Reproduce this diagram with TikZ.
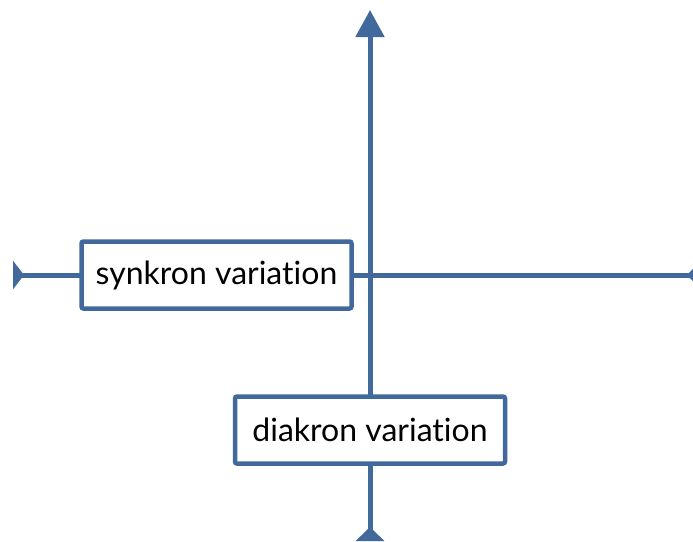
\documentclass[tikz,border=0pt]{standalone}
\usepackage{fontspec}
\setmainfont{Lato}[Ligatures={NoCommon}]
\usepackage{xcolor}
\usepackage{tikz}
\usetikzlibrary{arrows.meta}
\definecolor{axisblue}{RGB}{65,105,155}
\tikzstyle{axis} = [draw=axisblue, line width=5pt]
\tikzstyle{varbox} = [draw=axisblue, line width=4.5pt, fill=white, rounded corners=2pt,
	minimum width=270pt, minimum height=67pt, inner sep=0pt,
	font=\fontsize{32}{38}\selectfont]

\begin{document}
\begin{tikzpicture}[x=1pt,y=-1pt]
   \useasboundingbox (0,0) rectangle (693,541);
   \clip (0,0) rectangle (693,541);
   % ends of the axes
   \coordinate (top) at (370,10);
   \coordinate (bottom) at (370,541);
   \coordinate (left) at (13,275);
   \coordinate (right) at (701,275);
   \draw[axis, {Triangle[reversed,length=14pt,width=28pt]}-{Triangle[length=27pt,width=28pt]}] (bottom) -- (top);
   \draw[axis, {Triangle[reversed,length=11pt,width=28pt]}-{Triangle[reversed,length=14pt,width=28pt]}] (left) -- (right);
   % the two boxes
   \node[varbox] (synk) at (216.5,275) {synkron variation};
   \node[varbox] (diak) at (370,430) {diakron variation};
\end{tikzpicture}
\end{document}
